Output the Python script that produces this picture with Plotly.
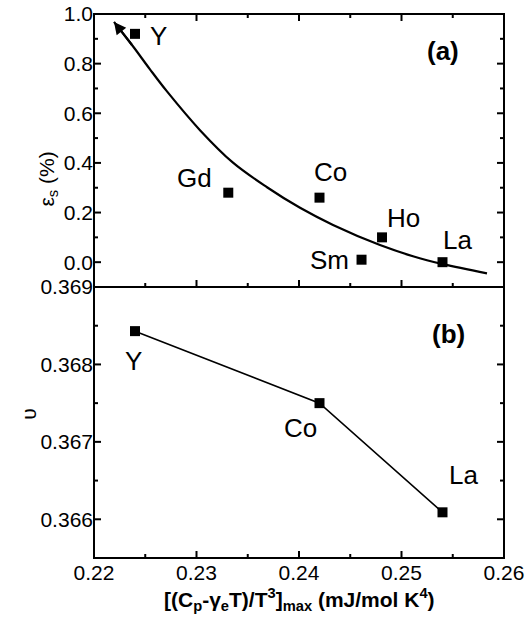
import plotly.graph_objects as go

# ---- data ----
top_labels = ["Y", "Gd", "Co", "Sm", "Ho", "La"]
top_x = [0.2240, 0.2331, 0.2420, 0.2461, 0.2481, 0.2540]
top_y = [0.92, 0.28, 0.26, 0.01, 0.10, 0.00]

curve_x = [0.22195, 0.22380, 0.22546, 0.22712, 0.23034, 0.23356, 0.23688,
           0.24010, 0.24332, 0.24790, 0.25112, 0.25405, 0.25834]
curve_y = [0.968, 0.870, 0.777, 0.688, 0.532, 0.401, 0.302,
           0.219, 0.150, 0.069, 0.024, -0.008, -0.045]

bot_labels = ["Y", "Co", "La"]
bot_x = [0.2240, 0.2420, 0.2540]
bot_y = [0.36843, 0.36750, 0.36609]

# ticks
x_ticks = [0.22, 0.23, 0.24, 0.25, 0.26]
x_ticktext = ["0.22", "0.23", "0.24", "0.25", "0.26"]
x_minor = [0.225, 0.235, 0.245, 0.255]
y_top_ticks = [0.0, 0.2, 0.4, 0.6, 0.8, 1.0]
y_top_minor = [0.1, 0.3, 0.5, 0.7, 0.9]
y_bot_ticks = [0.366, 0.367, 0.368, 0.369]
y_bot_minor = [0.3665, 0.3675, 0.3685]

# label positions
top_lab_x = [0.22634, 0.22985, 0.24309, 0.24302, 0.25024, 0.25551]
top_lab_y = [0.911, 0.338, 0.362, 0.008, 0.178, 0.089]
bot_lab_x = [0.2239, 0.24017, 0.2560]
bot_lab_y = [0.36805, 0.36718, 0.36657]

FONT = "Arial, Liberation Sans, sans-serif"
XR = [0.22, 0.26]
YR_TOP = [-0.1, 1.0]
YR_BOT = [0.3655, 0.369]
MAJ, MIN_, TW = 7, 4, 2
split = 271 / 544

fig = go.Figure()

fig.add_trace(go.Scatter(x=curve_x, y=curve_y, mode="lines", line=dict(color="black", width=2.2, shape="spline"),
                         xaxis="x", yaxis="y", showlegend=False, hoverinfo="skip"))
fig.add_trace(go.Scatter(x=top_x, y=top_y, mode="markers", marker=dict(symbol="square", size=10, color="black"),
                         xaxis="x", yaxis="y", showlegend=False))
fig.add_trace(go.Scatter(x=bot_x, y=bot_y, mode="lines+markers", line=dict(color="black", width=1.6),
                         marker=dict(symbol="square", size=10, color="black"),
                         xaxis="x2", yaxis="y2", showlegend=False))

ann = []
for t, x, y in zip(top_labels, top_lab_x, top_lab_y):
    ann.append(dict(x=x, y=y, xref="x", yref="y", text=t, showarrow=False,
                    font=dict(size=26, color="black", family=FONT)))
for t, x, y in zip(bot_labels, bot_lab_x, bot_lab_y):
    ann.append(dict(x=x, y=y, xref="x2", yref="y2", text=t, showarrow=False,
                    font=dict(size=26, color="black", family=FONT)))
ann.append(dict(x=0.2540, y=0.850, xref="x", yref="y", text="<b>(a)</b>", showarrow=False,
                font=dict(size=26, color="black", family=FONT)))
ann.append(dict(x=0.25459, y=0.36839, xref="x2", yref="y2", text="<b>(b)</b>", showarrow=False,
                font=dict(size=26, color="black", family=FONT)))
ann.append(dict(x=curve_x[0], y=curve_y[0], ax=curve_x[1], ay=curve_y[1], xref="x", yref="y",
                axref="x", ayref="y", showarrow=True, arrowhead=2, arrowsize=1.1, arrowwidth=2.2,
                arrowcolor="black", text=""))
ann.append(dict(x=-0.151, y=0.75, xref="paper", yref="paper", text="ε<sub>s</sub> (%)", textangle=-90,
                showarrow=False, font=dict(size=21, color="black", family=FONT)))
ann.append(dict(x=-0.193, y=0.25, xref="paper", yref="paper", text="υ", textangle=-90,
                showarrow=False, font=dict(size=21, color="black", family=FONT)))
ann.append(dict(x=0.5, y=-0.077, xref="paper", yref="paper", yanchor="middle",
                text="<b>[(C<sub>p</sub>-γ<sub>e</sub>T)/T<sup>3</sup>]<sub>max</sub> (mJ/mol K<sup>4</sup>)</b>",
                showarrow=False, font=dict(size=21, color="black", family=FONT)))

# ---- frame and tick marks as pixel-sized shapes ----
shapes = []
ln = dict(color="black", width=TW)
for y0, y1 in [(split, 1), (0, split)]:
    shapes.append(dict(type="rect", xref="paper", yref="paper", x0=0, x1=1, y0=y0, y1=y1,
                       line=dict(color="black", width=2), layer="above"))


def xtick(xref, val, anchor, length):
    return dict(type="line", xref=xref, yref="paper", x0=val, x1=val, ysizemode="pixel",
                yanchor=anchor, y0=0, y1=length, line=ln, layer="above")


def ytick(yref, val, anchor, length):
    return dict(type="line", xref="paper", yref=yref, y0=val, y1=val, xsizemode="pixel",
                xanchor=anchor, x0=0, x1=length, line=ln, layer="above")


for vals, L in [(x_ticks[1:-1], MAJ), (x_minor, MIN_)]:
    for v in vals:
        shapes.append(xtick("x", v, split, L))      # top panel, bottom edge (up)
        shapes.append(xtick("x", v, 1, -L))         # top panel, top edge (down)
        shapes.append(xtick("x2", v, 0, L))         # bottom panel, bottom edge (up)
for vals, L in [(y_top_ticks[:-1], MAJ), (y_top_minor, MIN_)]:
    for v in vals:
        shapes.append(ytick("y", v, 0, L))
        shapes.append(ytick("y", v, 1, -L))
for vals, L in [(y_bot_ticks[:-1], MAJ), (y_bot_minor, MIN_)]:
    for v in vals:
        shapes.append(ytick("y2", v, 0, L))
        shapes.append(ytick("y2", v, 1, -L))

ax = dict(showgrid=False, zeroline=False, automargin=False, showline=False, ticks="",
          tickfont=dict(size=21, color="black", family=FONT))

fig.update_layout(
    width=527, height=620,
    margin=dict(l=94, r=23, t=14, b=62, autoexpand=False),
    plot_bgcolor="white", paper_bgcolor="white",
    annotations=ann, shapes=shapes,
    xaxis=dict(ax, domain=[0, 1], anchor="y", range=XR, tickvals=x_ticks, showticklabels=False),
    yaxis=dict(ax, domain=[split, 1], anchor="x", range=YR_TOP, tickvals=y_top_ticks, tickformat=".1f"),
    xaxis2=dict(ax, domain=[0, 1], anchor="y2", range=XR, tickvals=x_ticks, ticktext=x_ticktext),
    yaxis2=dict(ax, domain=[0, split], anchor="x2", range=YR_BOT, tickvals=y_bot_ticks, tickformat=".3f"),
)

fig.write_html("out.html")
